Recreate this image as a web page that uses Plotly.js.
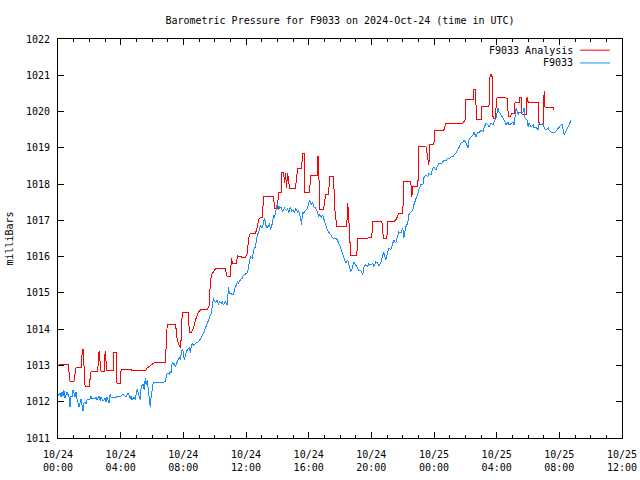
<!DOCTYPE html>
<html>
<head>
<meta charset="utf-8">
<script src="https://cdn.plot.ly/plotly-3.0.1.min.js"></script>
<style>html,body{margin:0;padding:0;background:#fff;}#chart{width:640px;height:480px;}
#chart path.js-line{shape-rendering:crispEdges;}</style>
</head>
<body>
<div id="chart"></div>
<script>
// Hours since 2024-10-24 00:00 UTC, and pressure (mb) for the observed series
const obsHours = [
0,0.13,0.19,0.26,0.32,0.38,0.45,0.51,0.58,0.70,
0.77,0.83,0.90,0.96,1.02,1.09,1.15,1.22,1.34,1.41,
1.47,1.54,1.60,1.66,1.73,1.79,1.86,1.98,2.05,2.11,
2.18,2.24,2.37,2.43,2.50,2.62,2.69,2.75,2.82,2.88,
3.01,3.07,3.13,3.26,3.33,3.39,3.52,3.65,3.71,3.77,
3.97,4.03,4.16,4.29,4.35,4.48,4.61,4.67,4.73,4.86,
4.93,5.05,5.18,5.25,5.31,5.44,5.50,5.57,5.63,5.69,
5.82,5.89,5.95,6.01,6.08,6.21,6.27,6.40,6.53,6.59,
6.72,6.85,6.91,6.97,7.10,7.17,7.23,7.29,7.36,7.42,
7.49,7.55,7.61,7.74,7.81,7.87,7.93,8.00,8.06,8.13,
8.19,8.25,8.38,8.45,8.51,8.57,8.64,8.77,8.83,8.96,
9.09,9.28,9.47,9.66,9.79,9.92,10.04,10.17,10.24,10.30,
10.43,10.49,10.56,10.68,10.81,10.88,10.94,11.07,11.20,11.32,
11.45,11.52,11.64,11.77,11.84,12.09,12.16,12.22,12.28,12.41,
12.48,12.60,12.67,12.73,12.86,12.92,13.05,13.12,13.18,13.31,
13.44,13.50,13.56,13.69,13.76,13.82,13.95,14.01,14.08,14.14,
14.27,14.33,14.46,14.59,14.65,14.72,14.84,14.91,14.97,15.10,
15.16,15.29,15.36,15.48,15.55,15.61,15.67,15.80,15.93,16.00,
16.06,16.19,16.25,16.31,16.44,16.57,16.63,16.70,16.83,16.89,
17.02,17.15,17.27,17.40,17.53,17.59,17.79,17.91,17.98,18.04,
18.17,18.23,18.36,18.49,18.55,18.68,18.81,18.87,19.00,19.13,
19.19,19.32,19.45,19.51,19.64,19.77,19.83,19.96,20.09,20.15,
20.28,20.41,20.47,20.60,20.73,20.79,20.92,21.05,21.11,21.24,
21.37,21.43,21.56,21.69,21.75,21.88,22.01,22.07,22.20,22.33,
22.39,22.52,22.65,22.71,22.84,22.97,23.03,23.16,23.29,23.35,
23.48,23.61,23.67,23.80,23.93,23.99,24.12,24.25,24.31,24.50,
24.63,24.76,24.89,24.95,25.08,25.21,25.27,25.40,25.53,25.59,
25.72,25.85,25.91,26.04,26.17,26.23,26.30,26.36,26.49,26.55,
26.68,26.81,26.87,27.00,27.13,27.19,27.32,27.45,27.51,27.64,
27.77,27.83,27.96,28.09,28.15,28.28,28.41,28.47,28.60,28.73,
28.79,28.92,29.05,29.11,29.24,29.37,29.43,29.56,29.69,29.75,
29.81,29.94,30.01,30.07,30.20,30.33,30.39,30.52,30.65,30.71,
30.84,30.97,31.03,31.16,31.29,31.35,31.54,31.67,32.18,32.31,32.76
];
const obsValues = [
1012.16,1012.24,1012.13,1012.27,1012.16,1012.32,1012.10,1012.19,1012.27,1012.13,
1011.85,1012.16,1012.13,1012.32,1012.24,1012.13,1012.27,1012.05,1011.85,1011.94,
1012.08,1011.88,1011.74,1011.96,1011.99,1011.94,1012.05,1012.05,1012.08,1012.16,
1012.08,1012.10,1012.08,1012.13,1012.05,1012.16,1012.02,1012.13,1012.08,1012.02,
1012.10,1011.99,1012.13,1011.96,1012.21,1012.13,1012.13,1012.13,1012.10,1012.16,
1012.13,1012.16,1012.21,1012.16,1012.13,1012.24,1012.08,1012.16,1012.05,1012.13,
1012.05,1012.35,1012.13,1012.05,1012.41,1012.49,1012.32,1012.65,1012.46,1012.60,
1012.13,1011.85,1012.16,1012.41,1012.52,1012.54,1012.52,1012.54,1012.52,1012.52,
1012.52,1012.57,1012.68,1012.79,1012.76,1012.82,1012.79,1013.10,1013.01,1013.07,
1012.96,1013.07,1013.10,1013.23,1013.15,1013.34,1013.45,1013.37,1013.15,1013.29,
1013.34,1013.43,1013.48,1013.34,1013.54,1013.62,1013.56,1013.62,1013.62,1013.65,
1013.73,1013.89,1014.12,1014.31,1014.45,1014.86,1014.72,1014.80,1014.67,1014.75,
1014.72,1014.75,1014.67,1014.75,1014.67,1015.16,1015.00,1014.97,1014.97,1015.16,
1015.30,1015.27,1015.36,1015.41,1015.49,1015.55,1015.71,1015.91,1015.99,1015.96,
1016.18,1016.27,1016.46,1016.60,1016.73,1016.87,1016.79,1016.93,1017.07,1016.79,
1016.84,1016.93,1016.73,1016.93,1017.15,1017.07,1017.34,1017.48,1017.29,1017.37,
1017.34,1017.23,1017.34,1017.26,1017.34,1017.20,1017.37,1017.23,1017.29,1017.20,
1017.34,1017.23,1017.26,1017.07,1016.87,1017.23,1017.20,1017.26,1017.34,1017.48,
1017.56,1017.42,1017.51,1017.37,1017.34,1017.23,1017.09,1017.15,1017.09,1017.15,
1016.93,1016.79,1016.68,1016.60,1016.54,1016.49,1016.49,1016.40,1016.32,1016.24,
1016.10,1015.99,1015.82,1015.91,1015.82,1015.58,1015.71,1015.85,1015.77,1015.69,
1015.63,1015.63,1015.49,1015.71,1015.77,1015.74,1015.80,1015.77,1015.82,1015.71,
1015.85,1015.82,1015.74,1015.82,1016.10,1016.13,1015.91,1016.13,1016.24,1016.18,
1016.38,1016.46,1016.38,1016.65,1016.68,1016.65,1016.79,1016.51,1016.82,1016.93,
1017.15,1017.23,1017.29,1017.42,1017.56,1017.75,1017.84,1017.98,1017.98,1018.17,
1018.25,1018.20,1018.31,1018.25,1018.44,1018.47,1018.39,1018.53,1018.58,1018.58,
1018.66,1018.64,1018.72,1018.69,1018.75,1018.75,1018.80,1018.86,1018.94,1019.00,
1019.13,1019.16,1019.22,1019.13,1019.00,1019.22,1019.27,1019.30,1019.35,1019.44,
1019.30,1019.44,1019.41,1019.49,1019.44,1019.55,1019.68,1019.63,1019.57,1019.68,
1019.63,1019.71,1019.82,1020.10,1019.99,1019.91,1019.82,1019.77,1019.63,1019.71,
1019.63,1019.68,1019.71,1019.63,1020.10,1019.91,1019.99,1019.96,1019.99,1020.10,
1019.82,1019.77,1019.57,1019.68,1019.57,1019.63,1019.55,1019.57,1019.49,1019.68,
1019.63,1019.68,1019.55,1019.49,1019.55,1019.49,1019.41,1019.41,1019.66,1019.35,1019.77
];

// Analysis series
const anaHours = [
0.00,0.64,0.77,1.02,1.15,1.47,1.54,1.60,1.66,1.73,
1.98,2.05,2.11,2.50,2.56,2.62,2.69,2.75,2.94,3.01,
3.07,3.13,3.52,3.53,3.71,3.77,3.97,4.03,4.67,4.73,
5.57,5.69,6.14,6.85,6.97,7.49,7.55,7.61,7.68,7.81,
7.87,7.93,8.32,8.38,8.51,8.64,8.77,8.96,9.09,9.53,
9.60,9.66,9.72,9.79,10.04,10.68,10.81,11.00,11.07,11.13,
11.39,11.45,11.71,11.96,12.09,12.16,12.28,12.60,12.67,12.80,
12.92,13.05,13.12,13.76,13.82,14.01,14.08,14.27,14.28,14.40,
14.46,14.52,14.59,14.65,14.72,14.78,15.16,15.23,15.29,15.55,
15.61,15.74,15.75,16.06,16.12,16.57,16.58,16.63,16.70,16.95,
17.08,17.27,17.34,17.59,17.66,17.79,18.43,18.49,18.55,18.68,
19.07,19.13,19.77,19.83,20.03,20.09,20.67,20.73,20.79,20.99,
21.05,21.43,21.56,21.75,22.01,22.07,22.52,22.58,22.65,22.97,
23.03,23.48,23.61,23.67,23.74,23.99,24.06,24.63,24.76,25.85,
25.98,26.04,26.49,26.55,26.62,26.74,27.00,27.06,27.51,27.58,
27.70,27.71,27.77,27.90,28.02,28.09,28.66,28.73,28.79,28.85,
28.98,29.11,29.17,29.43,29.44,29.56,29.62,29.88,29.94,30.01,
30.65,30.71,30.97,31.03,31.09,31.61,31.67
];
const anaValues = [
1013.01,1013.04,1012.57,1012.57,1012.93,1012.93,1013.34,1013.45,1012.99,1012.41,
1012.41,1012.60,1012.82,1012.82,1012.99,1013.40,1013.10,1012.82,1012.82,1013.40,
1013.10,1012.85,1012.85,1013.37,1013.37,1012.49,1012.49,1012.90,1012.90,1012.85,
1012.85,1012.93,1013.07,1013.07,1014.12,1014.12,1013.98,1013.70,1013.62,1013.48,
1013.78,1014.47,1014.47,1013.92,1013.92,1014.03,1014.25,1014.47,1014.53,1014.53,
1014.61,1014.67,1015.27,1015.49,1015.66,1015.66,1015.44,1015.44,1015.96,1015.82,
1015.82,1016.02,1015.99,1015.99,1016.10,1016.49,1016.65,1016.65,1016.73,1017.01,
1017.09,1017.09,1017.67,1017.67,1017.34,1017.34,1017.78,1017.78,1018.31,1018.31,
1018.03,1018.31,1017.89,1018.31,1018.11,1017.89,1017.89,1018.14,1018.42,1018.42,
1018.83,1018.83,1017.78,1017.78,1018.25,1018.25,1018.75,1018.75,1017.29,1017.29,
1017.70,1017.70,1018.20,1018.20,1017.34,1016.82,1016.82,1017.48,1017.15,1016.04,
1016.04,1016.49,1016.49,1016.54,1016.54,1016.98,1016.98,1016.68,1016.51,1016.51,
1016.96,1016.96,1017.01,1017.18,1017.20,1018.06,1018.06,1017.64,1017.92,1017.92,
1019.05,1019.05,1018.72,1018.53,1019.08,1019.08,1019.49,1019.49,1019.68,1019.68,
1019.77,1020.32,1020.32,1020.62,1020.62,1019.77,1019.77,1020.15,1020.15,1021.01,
1021.01,1020.57,1019.82,1019.82,1020.37,1020.40,1020.37,1019.99,1019.85,1019.85,
1019.96,1019.96,1020.24,1020.24,1020.40,1020.40,1019.91,1019.91,1020.40,1020.26,
1020.26,1019.63,1019.63,1020.57,1020.10,1020.10,1020.04
];

const seriesNames = ["F9033 Analysis", "F9033"];
const seriesColors = ["#ff0000", "#1a8cff"];

const base = Date.UTC(2024, 9, 24);
function stamp(h) {
  const d = new Date(base + Math.round(h * 3600000));
  return d.toISOString().slice(0, 19).replace('T', ' ');
}

const font = "DejaVu Sans Mono, monospace";

const traces = [
  {x: anaHours.map(stamp), y: anaValues, type: 'scatter', mode: 'lines',
   name: seriesNames[0], line: {color: seriesColors[0], width: 1}},
  {x: obsHours.map(stamp), y: obsValues, type: 'scatter', mode: 'lines',
   name: seriesNames[1], line: {color: seriesColors[1], width: 1}}
];

const legY = [0.972, 0.940];
const annotations = seriesNames.map((n, i) => ({
  text: n, xref: 'paper', yref: 'paper', x: 0.917, y: legY[i],
  xanchor: 'right', yanchor: 'middle', showarrow: false,
  font: {family: font, size: 10, color: '#000'}
}));
const shapes = seriesColors.map((c, i) => ({
  type: 'line', xref: 'paper', yref: 'paper', x0: 0.9255, x1: 0.9787,
  y0: legY[i], y1: legY[i], line: {color: c, width: 1}
}));

const layout = {
  width: 640, height: 480,
  margin: {l: 58, r: 18, t: 39, b: 42},
  paper_bgcolor: '#fff', plot_bgcolor: '#fff',
  showlegend: false,
  font: {family: font, size: 10, color: '#000'},
  title: {text: 'Barometric Pressure for F9033 on 2024-Oct-24 (time in UTC)',
          x: 0.5, xref: 'paper', xanchor: 'center', y: 0.958, yref: 'container', yanchor: 'middle',
          font: {family: font, size: 10, color: '#000'}},
  xaxis: {
    type: 'date', range: ['2024-10-24 00:00', '2024-10-25 12:00'],
    tickmode: 'linear', tick0: '2024-10-24 00:00', dtick: 4 * 3600000,
    tickformat: '%m/%d<br>%H:%M',
    ticks: 'inside', ticklen: 6, tickwidth: 1, tickcolor: '#000',
    showline: true, linecolor: '#000', linewidth: 1, mirror: 'allticks',
    showgrid: false, zeroline: false, ticklabelstandoff: 7,
    minor: {dtick: 3600000, tick0: '2024-10-24 00:00', ticks: 'inside', ticklen: 3, tickcolor: '#000', showgrid: false},
    tickfont: {family: font, size: 10, color: '#000'}
  },
  yaxis: {
    range: [1011, 1022], tickmode: 'linear', tick0: 1011, dtick: 1,
    ticks: 'inside', ticklen: 6, tickwidth: 1, tickcolor: '#000',
    showline: true, linecolor: '#000', linewidth: 1, mirror: 'ticks',
    showgrid: false, zeroline: false, ticklabelstandoff: 5,
    title: {text: 'milliBars', font: {family: font, size: 10, color: '#000'}, standoff: 10},
    tickfont: {family: font, size: 10, color: '#000'}
  },
  annotations: annotations,
  shapes: shapes
};

Plotly.newPlot('chart', traces, layout, {displayModeBar: false, staticPlot: true});
</script>
</body>
</html>
